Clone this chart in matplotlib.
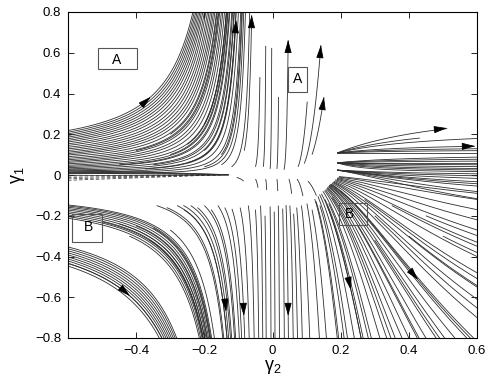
import numpy as np
import matplotlib
matplotlib.use("Agg")
import matplotlib.pyplot as plt
from matplotlib.patches import Rectangle

plt.rcParams['font.family'] = ['Liberation Sans', 'DejaVu Sans']
plt.rcParams['mathtext.fontset'] = 'custom'
plt.rcParams['mathtext.rm'] = 'Liberation Sans'
plt.rcParams['mathtext.it'] = 'Liberation Sans'

# flow model: d(g2)/dl = a*g2^2, d(g1)/dl = kv*(g1 - yc)
A_LEFT_UP = 2.0
A_LEFT_DN = 2.3
A_RIGHT = 1.4

# upper left: start on the left edge
ul_y0 = [0.006, 0.01, 0.014, 0.019, 0.024, 0.03, 0.036, 0.042, 0.048, 0.055,
         0.062, 0.068, 0.075, 0.082, 0.09, 0.098, 0.105, 0.112, 0.12, 0.128,
         0.136, 0.145, 0.153, 0.162, 0.17, 0.178, 0.186, 0.194, 0.202, 0.21]
# upper left: lines starting inside
ul_in_x = [-0.45, -0.4, -0.35, -0.3, -0.3, -0.25, -0.25, -0.2, -0.2, -0.2, -0.15, -0.15, -0.12]
ul_in_y = [0.05, 0.12, 0.05, 0.1, 0.2, 0.06, 0.15, 0.04, 0.12, 0.25, 0.05, 0.1, 0.04]

# wedge of short lines along g1 = 0
wedge_y0 = [0.026, 0.02, 0.014, 0.008, 0.002, -0.005, -0.012, -0.019, -0.026]
wedge_tip = (-0.13, 0.002)

# upper middle: bottom x, bottom y, top y
um_x = [-0.05, -0.027, -0.007, 0.013, 0.075]
um_y0 = [0.04, 0.04, 0.03, 0.03, 0.04]
um_y1 = [0.48, 0.63, 0.62, 0.38, 0.36]

# short pieces near the centre
cm_x = [-0.105, -0.05, -0.02, 0.013, 0.048, 0.072, 0.104]
cm_y0 = [-0.012, -0.02, -0.02, -0.02, -0.02, -0.02, -0.03]
cm_y1 = [-0.03, -0.06, -0.07, -0.075, -0.09, -0.1, -0.1]

# lower middle: start x, start y
lm_x = [-0.095, -0.071, -0.05, -0.035, -0.022, -0.007, 0.005, 0.017, 0.03, 0.051,
        0.062, 0.071, 0.085, 0.101, 0.116, 0.128, 0.139, 0.154, 0.165, 0.175]
lm_y0 = [-0.16, -0.15, -0.17, -0.15, -0.2, -0.155, -0.18, -0.15, -0.165, -0.15,
         -0.19, -0.16, -0.15, -0.14, -0.17, -0.13, -0.15, -0.12, -0.14, -0.11]

# lower left: start on the left edge
ll_y0 = [-0.147, -0.152, -0.158, -0.165, -0.172, -0.18, -0.188, -0.196, -0.204, -0.212,
         -0.353, -0.362, -0.372, -0.382, -0.392, -0.402, -0.412, -0.422, -0.434, -0.447]
# lower left: lines starting inside
ll_in_x = [-0.5, -0.45, -0.4, -0.35, -0.3, -0.42, -0.36, -0.34, -0.31, -0.28, -0.26,
           -0.24, -0.22, -0.2, -0.18, -0.16, -0.14]
ll_in_y = [-0.23, -0.24, -0.25, -0.26, -0.27, -0.3, -0.32, -0.15, -0.16, -0.15, -0.17,
           -0.15, -0.16, -0.15, -0.17, -0.15, -0.16]

# lower right: where lines leave the axes (bottom edge x, right edge y)
lr_end_x = [0.19, 0.22, 0.24, 0.26, 0.29, 0.315, 0.335, 0.36, 0.38, 0.40, 0.43,
            0.45, 0.48, 0.505, 0.535, 0.57, 0.59]
lr_end_y = [-0.70, -0.61, -0.55, -0.48, -0.40, -0.33, -0.27, -0.22, -0.17, -0.12, -0.09]
# lower right: lines starting inside
lr_in_x = [0.3, 0.35, 0.25, 0.4, 0.45, 0.3, 0.5, 0.27]
lr_in_y = [-0.2, -0.15, -0.25, -0.3, -0.2, -0.32, -0.3, -0.12]

# upper right fans from x = 0.19: source y, centre y, rate, end x
ur_y0 = [0.108, 0.108, 0.108, 0.108, 0.108, 0.108, 0.108,
         0.06, 0.06, 0.06, 0.06, 0.06, 0.06, 0.06, 0.06, 0.06,
         0.024, 0.024, 0.024, 0.024, 0.024, 0.024, 0.024, 0.024]
ur_yc = [0.0, 0.0, 0.0, 0.0, 0.0, 0.0, 0.0,
         0.0, 0.0, 0.0, 0.0, 0.0, 0.0, 0.0, 0.0, 0.0,
         0.04, 0.04, 0.04, 0.04, 0.04, 0.04, 0.04, 0.04]
ur_kv = [0.32, 0.25, 0.2, 0.106, 0.07, 0.04, 0.0,
         0.15, 0.1, 0.05, 0.0, -0.07, -0.15, -0.25, -0.35, -0.5,
         0.3, 0.4, 0.5, 0.6, 0.65, 0.7, 0.8, 0.9]
ur_x1 = [0.512, 0.43, 0.6, 0.594, 0.6, 0.6, 0.6,
         0.6, 0.6, 0.6, 0.6, 0.6, 0.6, 0.6, 0.6, 0.6,
         0.6, 0.6, 0.6, 0.6, 0.6, 0.6, 0.6, 0.6]

# arrows: tip, backward stop box (xmin, ymin, ymax), forward to edge
ar_x = [-0.357, -0.107, -0.061, 0.046, 0.142, 0.151, -0.418, -0.136, -0.084, 0.046, 0.23, 0.427]
ar_y = [0.384, 0.76, 0.785, 0.663, 0.638, 0.383, -0.594, -0.671, -0.692, -0.692, -0.564, -0.515]
ar_bx = [-0.6, -0.6, -0.6, -0.6, -0.6, -0.6, -0.6, -0.6, -0.6, -0.6, -0.6, 0.2]
ar_by0 = [-0.8, 0.03, 0.12, 0.03, 0.06, 0.1, -0.8, -0.8, -0.8, -0.8, -0.8, -0.8]
ar_by1 = [0.8, 0.8, 0.8, 0.8, 0.8, 0.8, 0.8, -0.15, -0.17, -0.15, -0.15, 0.8]
ar_fwd = [True, False, False, False, False, False, True, True, True, True, True, True]

SX = 409 / 1.2
SY = 326 / 1.6
LIM = (-0.6, 0.6, -0.8, 0.8)


def vel(x, y, kv, yc):
    if x < 0:
        a = A_LEFT_UP if y >= 0 else A_LEFT_DN
    else:
        a = A_RIGHT
    return a * x * x + 0.0015, kv * (y - yc)


def step_dir(x, y, kv, yc):
    u, v = vel(x, y, kv, yc)
    pu, pv = u * SX, v * SY
    m = np.hypot(pu, pv) + 1e-12
    return pu / m / SX, pv / m / SY


def trace(x, y, kv=1.0, yc=0.0, sgn=1, box=LIM, stop=None, n=3000, h=1.0):
    xs, ys = [x], [y]
    for _ in range(n):
        dx, dy = step_dir(x, y, kv, yc)
        dx, dy = step_dir(x + sgn * 0.5 * h * dx, y + sgn * 0.5 * h * dy, kv, yc)
        x += sgn * h * dx
        y += sgn * h * dy
        xs.append(x)
        ys.append(y)
        if not (box[0] <= x <= box[1] and box[2] <= y <= box[3]):
            break
        if stop is not None and stop(x, y):
            break
    return xs, ys


def lr_start(x, y):
    # the lower right lines begin along a slanted edge
    return x < 0.09 or y > min(-0.16 + (x - 0.1) * 1.556, -0.008)


def arrow_at(tx, ty, kv=1.0, yc=0.0):
    dx, dy = step_dir(tx, ty, kv, yc)
    ax.annotate('', xy=(tx, ty), xytext=(tx - 10 * dx, ty - 10 * dy),
                arrowprops=dict(arrowstyle='-|>,head_length=0.8,head_width=0.22',
                                mutation_scale=10, color='k', lw=0.6,
                                shrinkA=0, shrinkB=0), zorder=4)


fig = plt.figure(figsize=(4.91, 3.82), dpi=100)
ax = fig.add_axes([68 / 491, 1 - 338 / 382, 409 / 491, 326 / 382])
lc = '#2e2e2e'
lw = 0.6


def draw(xs, ys, **kw):
    ax.plot(xs, ys, color=lc, lw=lw, solid_capstyle='butt', **kw)


for y0 in ul_y0:
    draw(*trace(-0.6, y0))
for x0, y0 in zip(ul_in_x, ul_in_y):
    draw(*trace(x0, y0))

for y0 in wedge_y0:
    ls = '-' if y0 > 0 else (0, (5, 3))
    ax.plot([-0.6, wedge_tip[0]], [y0, wedge_tip[1]], color=lc, lw=0.5, ls=ls)

for x0, y0, y1 in zip(um_x, um_y0, um_y1):
    draw(*trace(x0, y0, box=(-0.6, 0.6, -0.8, y1)))
for x0, y0, y1 in zip(cm_x, cm_y0, cm_y1):
    draw(*trace(x0, y0, box=(-0.6, 0.6, y1, 0.8)))
for x0, y0 in zip(lm_x, lm_y0):
    draw(*trace(x0, y0))
for y0 in ll_y0:
    draw(*trace(-0.6, y0))
for x0, y0 in zip(ll_in_x, ll_in_y):
    draw(*trace(x0, y0))
for xe in lr_end_x:
    draw(*trace(xe, -0.8, sgn=-1, stop=lr_start))
for ye in lr_end_y:
    draw(*trace(0.6, ye, sgn=-1, stop=lr_start))
for x0, y0 in zip(lr_in_x, lr_in_y):
    draw(*trace(x0, y0))
for y0, yc, kv, x1 in zip(ur_y0, ur_yc, ur_kv, ur_x1):
    draw(*trace(0.19, y0, kv=kv, yc=yc, box=(-0.6, x1, -0.8, 0.8)))

for i, (tx, ty) in enumerate(zip(ar_x, ar_y)):
    box = (ar_bx[i], 0.6, ar_by0[i], ar_by1[i])
    draw(*trace(tx, ty, sgn=-1, box=box))
    if ar_fwd[i]:
        draw(*trace(tx, ty))
    arrow_at(tx, ty)

# arrows on the upper right fan
for y0, kv, x1 in [(0.108, 0.32, 0.512), (0.108, 0.106, 0.594)]:
    ty = y0 * np.exp(kv / A_RIGHT * (1 / 0.19 - 1 / x1))
    arrow_at(x1, ty, kv=kv)

# labelled boxes
boxes = [('A', -0.511, 0.520, 0.113, 0.105, -0.457, 0.565),
         ('A', 0.046, 0.409, 0.054, 0.123, 0.073, 0.47),
         ('B', -0.589, -0.329, 0.088, 0.138, -0.54, -0.255),
         ('B', 0.196, -0.245, 0.08, 0.106, 0.225, -0.19)]
for lab, x0, y0, w, h, tx, ty in boxes:
    ax.add_patch(Rectangle((x0, y0), w, h, fill=False, ec='#555555', lw=0.8, zorder=5))
    ax.text(tx, ty, lab, ha='center', va='center', fontsize=10, zorder=6)

ax.set_xlim(-0.6, 0.6)
ax.set_ylim(-0.8, 0.8)
ax.set_xticks([-0.4, -0.2, 0, 0.2, 0.4, 0.6])
ax.set_xticklabels(['\u22120.4', '\u22120.2', '0', '0.2', '0.4', '0.6'])
ax.set_yticks([-0.8, -0.6, -0.4, -0.2, 0, 0.2, 0.4, 0.6, 0.8])
ax.set_yticklabels(['\u22120.8', '\u22120.6', '\u22120.4', '\u22120.2', '0', '0.2', '0.4', '0.6', '0.8'])
ax.tick_params(direction='in', top=True, right=True, length=4, width=0.6, labelsize=9.5, pad=5)
for s in ax.spines.values():
    s.set_linewidth(0.8)
ax.set_xlabel(r'$\gamma_2$', fontsize=13, labelpad=1)
ax.set_ylabel(r'$\gamma_1$', fontsize=13, labelpad=6)

fig.savefig('out.png', dpi=100)
